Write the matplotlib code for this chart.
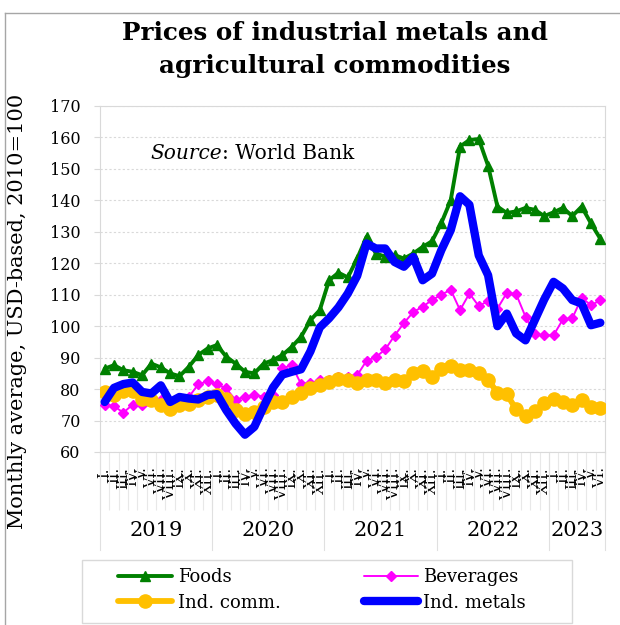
import numpy as np
import matplotlib.pyplot as plt
from matplotlib.lines import Line2D
from matplotlib.patches import Rectangle
from matplotlib.transforms import blended_transform_factory

# Monthly averages, USD-based, 2010=100 (January 2019 - June 2023)
foods = [86.5, 87.6, 86.0, 85.5, 84.4, 88.1, 86.9, 85.0, 84.1, 87.1,
         90.8, 92.9, 94.0, 90.3, 88.1, 85.5, 85.0, 88.1, 89.2, 90.8,
         93.4, 96.6, 101.9, 105.1, 114.6, 117.0, 115.5, 121.5, 128.4, 123.1,
         122.1, 122.6, 121.5, 123.1, 125.2, 127.0, 132.8, 140.0, 157.1, 159.2,
         159.5, 151.0, 138.0, 136.0, 136.5, 137.6, 137.0, 135.0, 136.2, 137.6,
         135.0, 138.0, 132.7, 127.8]
beverages = [75.1, 74.6, 72.5, 75.1, 75.1, 77.0, 76.5, 75.5, 76.0, 77.5,
             81.5, 82.5, 81.5, 80.2, 76.5, 77.6, 78.1, 77.6, 78.1, 86.6,
             87.6, 81.6, 82.0, 82.8, 82.8, 83.9, 83.9, 84.4, 89.0, 90.2,
             92.6, 97.0, 101.0, 104.5, 106.2, 108.3, 110.0, 111.6, 105.1, 110.4,
             106.4, 108.0, 105.6, 110.6, 110.2, 103.0, 97.4, 97.1, 97.1, 102.2,
             102.5, 109.0, 106.7, 108.2]
ind_comm = [79.0, 78.2, 79.5, 79.3, 77.0, 76.5, 75.0, 73.8, 74.8, 75.2,
            76.5, 77.4, 78.2, 77.0, 73.5, 72.2, 72.8, 74.4, 75.9, 76.0,
            77.5, 78.6, 80.2, 81.2, 82.3, 83.3, 83.0, 82.0, 83.0, 82.8,
            82.0, 83.0, 82.6, 85.0, 85.9, 83.9, 86.3, 87.3, 86.1, 86.1,
            85.0, 82.9, 78.9, 78.3, 73.6, 71.4, 73.0, 75.6, 76.7, 75.8,
            74.9, 76.6, 74.3, 74.0]
ind_metals = [75.9, 80.4, 81.6, 82.1, 79.1, 78.6, 81.2, 75.9, 77.5, 77.0,
              76.7, 78.1, 78.4, 73.3, 69.0, 65.5, 68.0, 74.4, 80.5, 84.6,
              85.5, 86.3, 92.0, 99.6, 102.5, 106.0, 110.4, 116.0, 126.3, 124.7,
              124.7, 120.4, 118.9, 122.0, 114.6, 116.7, 124.2, 130.5, 141.3, 138.6,
              122.5, 116.2, 100.0, 104.0, 97.7, 95.5, 102.0, 108.5, 114.1, 112.0,
              108.3, 107.2, 100.3, 101.1]

years = ['2019', '2020', '2021', '2022', '2023']
months_per_year = [12, 12, 12, 12, 6]
roman = ['I', 'II', 'III', 'IV', 'V', 'VI', 'VII', 'VIII', 'IX', 'X', 'XI', 'XII']

month_labels = []
for n in months_per_year:
    month_labels += [r + '.' for r in roman[:n]]

x = np.arange(len(foods))

plt.rcParams['font.family'] = 'DejaVu Serif'

fig = plt.figure(figsize=(6.2, 6.25), dpi=100)
ax = fig.add_axes([100 / 620, 173 / 625, 505 / 620, 346 / 625])

round_line = dict(solid_capstyle='round', solid_joinstyle='round')
l_foods, = ax.plot(x, foods, color='#008000', lw=2.8, marker='^', ms=6.5,
                   label='Foods', zorder=3, **round_line)
l_bev, = ax.plot(x, beverages, color='#FF00FF', lw=1.4, marker='D', ms=4.8,
                 label='Beverages', zorder=4, **round_line)
l_comm, = ax.plot(x, ind_comm, color='#FFC000', lw=4.2, marker='o', ms=9.5,
                  label='Ind. comm.', zorder=5, **round_line)
l_met, = ax.plot(x, ind_metals, color='#0000FF', lw=6, label='Ind. metals',
                 zorder=6, **round_line)

# axes, grid and frame
ax.set_ylim(60, 170)
ax.set_yticks(np.arange(60, 171, 10))
ax.yaxis.grid(True, color='#d9d9d9', linestyle=(0, (2, 2)), lw=0.8)
ax.set_axisbelow(True)
for s in ax.spines.values():
    s.set_color('#d9d9d9')
ax.tick_params(axis='y', length=4, color='#d9d9d9', labelsize=11.5, pad=10)

# month labels, roman numerals
ax.set_xticks(x)
ax.set_xticklabels(month_labels, rotation=90, fontsize=10.5, va='top')
ax.tick_params(axis='x', which='major', length=0, pad=11)
ax.set_xticks(np.arange(-0.5, len(x), 1), minor=True)
ax.tick_params(axis='x', which='minor', length=42, color='#e8e8e8', width=0.8)

# year groups under the months
trans = blended_transform_factory(ax.transData, ax.transAxes)
start = 0
for yr, n in zip(years, months_per_year):
    ax.plot([start - 0.5, start - 0.5], [0, -0.283], transform=trans,
            color='#e0e0e0', lw=0.8, clip_on=False)
    ax.text(start + n / 2 - 0.5, -0.228, yr, transform=trans,
            ha='center', va='center', fontsize=15)
    start += n
ax.plot([start - 0.5, start - 0.5], [0, -0.283], transform=trans,
        color='#e0e0e0', lw=0.8, clip_on=False)
ax.set_xlim(-0.5, len(x) - 0.5)

ax.set_ylabel('Monthly average, USD-based, 2010=100', fontsize=15)
ax.yaxis.set_label_coords(-0.145, 0.405)

# source note
src = ax.text(0.099, 0.864, 'Source', style='italic', fontsize=14.5,
              transform=ax.transAxes, va='center')
ax.annotate(': World Bank', xy=(1, 0), xycoords=src, va='bottom', fontsize=14.5)

# title
fig.text(335 / 620, 1 - 33 / 625, 'Prices of industrial metals and',
         ha='center', va='center', fontsize=17.7, fontweight='bold')
fig.text(335 / 620, 1 - 66 / 625, 'agricultural commodities',
         ha='center', va='center', fontsize=17.7, fontweight='bold')

# legend, filled row by row
fig.legend(handles=[l_foods, l_comm, l_bev, l_met], ncol=2, loc='center',
           bbox_to_anchor=(322 / 620, 1 - 590 / 625), frameon=False,
           fontsize=13, handlelength=3.0, handletextpad=0.3,
           columnspacing=4.6, labelspacing=0.4, numpoints=1)
fig.patches.append(Rectangle((82 / 620, 2 / 625), 490 / 620, 63 / 625,
                             transform=fig.transFigure, fill=False,
                             edgecolor='#d9d9d9', lw=1))

# outer chart border
fig.lines.append(Line2D([5 / 620, 5 / 620], [0, 1 - 13 / 625],
                        transform=fig.transFigure, color='#a6a6a6', lw=1))
fig.lines.append(Line2D([5 / 620, 1], [1 - 13 / 625, 1 - 13 / 625],
                        transform=fig.transFigure, color='#a6a6a6', lw=1))

fig.savefig('out.png', dpi=100)
